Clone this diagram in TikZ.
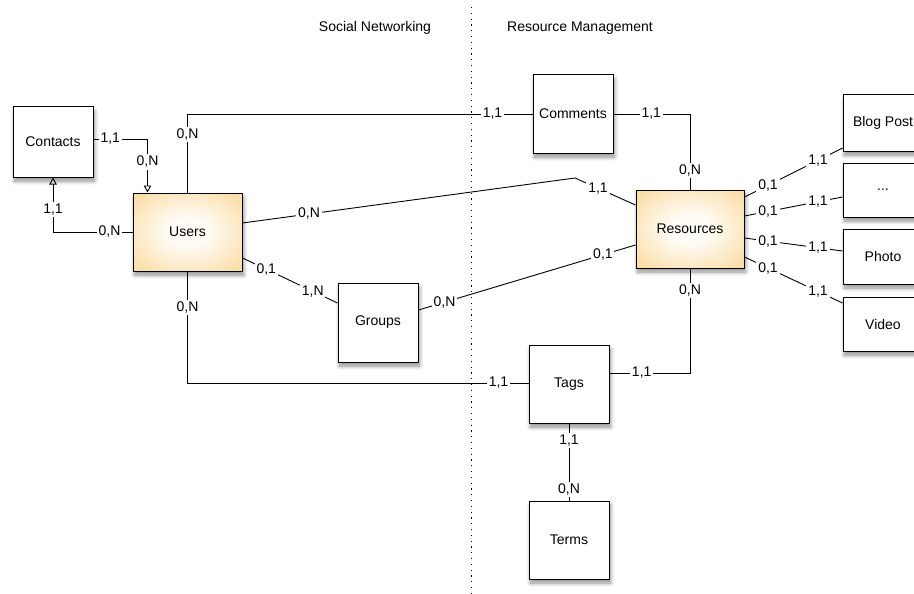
\documentclass[tikz,border=0pt]{standalone}
\usepackage{fontspec}
\setmainfont{Liberation Sans}
\usetikzlibrary{arrows.meta,shadows.blur}
\definecolor{entityedge}{HTML}{F8CA76}
\definecolor{entitycorner}{HTML}{F3B451}
\definecolor{entitycore}{HTML}{FFFCF6}
% soft glow: pale centre fading to light orange edges and deeper corners
\pgfdeclareradialshading{entityglow}{\pgfpoint{0bp}{0bp}}{%
  color(0bp)=(entitycore); color(9bp)=(entitycore);
  color(48bp)=(entityedge); color(72bp)=(entitycorner)}
\tikzset{
  entity/.style={draw=black, line width=1pt, fill=white, minimum width=80pt,
    minimum height=78pt, inner sep=0pt, font=\fontsize{14}{16}\selectfont,
    blur shadow={shadow xshift=1.5pt, shadow yshift=-4pt, shadow opacity=45,
      shadow blur radius=4pt, shadow blur steps=10}},
  core/.style={entity, shading=entityglow, minimum width=109pt},
  link/.style={line width=0.9pt, black},
  lbl/.style={fill=white, inner sep=1.8pt, font=\fontsize{14}{16}\selectfont},
  isa/.style={link, -{Triangle[open, length=7pt, width=7.5pt, line width=0.9pt]}},
  title/.style={font=\fontsize{14}{16}\selectfont}
}
\begin{document}
\begin{tikzpicture}[x=1pt, y=-1pt]
\useasboundingbox (0,0) rectangle (914,594);
\clip (0,0) rectangle (914,594);

% partition between the two subsystems
\draw[line width=1pt, dash pattern=on 1.2pt off 4.6pt] (471,7) -- (471,594);
\node[title] (socialtitle) at (375,28) {Social Networking};
\node[title] (resourcetitle) at (580,28) {Resource Management};

% entities
\node[entity, minimum height=70pt] (contacts) at (53,142) {Contacts};
\node[core] (users) at (187.5,232) {Users};
\node[entity, minimum height=79pt] (groups) at (378,322.5) {Groups};
\node[entity] (comments) at (573,114) {Comments};
\node[core, minimum width=108pt] (resources) at (690,229) {Resources};
\node[entity] (tags) at (569,384) {Tags};
\node[entity] (terms) at (569,540) {Terms};
\node[entity, minimum height=56pt] (blog) at (883,123) {Blog Post};
\node[entity, minimum height=54pt] (more) at (883,190) {...};
\node[entity, minimum height=55pt] (photo) at (883,256.5) {Photo};
\node[entity, minimum height=54pt] (video) at (883,324) {Video};

\coordinate (bend) at (575,178);

% contacts relationships
\draw[isa] ([yshift=3pt]contacts.east) -| ([xshift=15pt]users.north west)
  node[lbl, pos=0.155] (l1) {1,1} node[lbl, pos=0.715] (l2) {0,N};
\draw[isa] (users.west) -| (contacts.south)
  node[lbl, pos=0.144] (l3) {0,N} node[lbl, pos=0.71] (l4) {1,1};

% users relationships
\draw[link] (users.north) |- (comments.west)
  node[lbl, pos=0.367] (l5) {0,N} node[lbl, pos=0.942] (l6) {1,1};
\draw[link] ([yshift=9pt]users.east) -- (bend)
  node[lbl, pos=0.2] (l7) {0,N};
\draw[link] (bend) -- ([yshift=24pt]resources.west)
  node[lbl, pos=0.38] (l8) {1,1};
\draw[link] ([yshift=-26pt]users.east) -- ([yshift=19.5pt]groups.west)
  node[lbl, pos=0.25] (l9) {0,1} node[lbl, pos=0.74] (l10) {1,N};
\draw[link] ([yshift=12.5pt]groups.east) -- ([yshift=-16pt]resources.west)
  node[lbl, pos=0.12] (l11) {0,N} node[lbl, pos=0.85] (l12) {0,1};
\draw[link] (users.south) |- ([yshift=1pt]tags.west)
  node[lbl, pos=0.16] (l13) {0,N} node[lbl, pos=0.956] (l14) {1,1};

% resource relationships
\draw[link] ([yshift=11pt]tags.east) -| (resources.south)
  node[lbl, pos=0.2] (l15) {1,1} node[lbl, pos=0.895] (l16) {0,N};
\draw[link] (comments.east) -| (resources.north)
  node[lbl, pos=0.247] (l17) {1,1} node[lbl, pos=0.875] (l18) {0,N};
\draw[link] (tags.south) -- (terms.north)
  node[lbl, pos=0.22] (l19) {1,1} node[lbl, pos=0.86] (l20) {0,N};

% resource subtypes
\draw[link] ([yshift=32pt]resources.east) -- ([yshift=-25pt]blog.west)
  node[lbl, pos=0.24] (l21) {0,1} node[lbl, pos=0.75] (l22) {1,1};
\draw[link] ([yshift=13pt]resources.east) -- ([yshift=-7pt]more.west)
  node[lbl, pos=0.24] (l23) {0,1} node[lbl, pos=0.75] (l24) {1,1};
\draw[link] ([yshift=-9pt]resources.east) -- ([yshift=5.5pt]photo.west)
  node[lbl, pos=0.24] (l25) {0,1} node[lbl, pos=0.75] (l26) {1,1};
\draw[link] ([yshift=-28pt]resources.east) -- ([yshift=21pt]video.west)
  node[lbl, pos=0.24] (l27) {0,1} node[lbl, pos=0.75] (l28) {1,1};
\end{tikzpicture}
\end{document}
